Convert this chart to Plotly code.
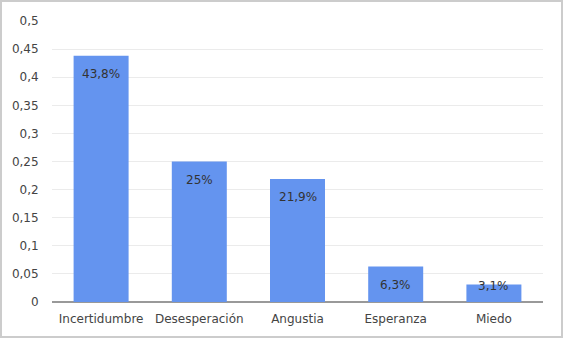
import plotly.graph_objects as go

categories = ["Incertidumbre", "Desesperación", "Angustia", "Esperanza", "Miedo"]
values = [0.438, 0.25, 0.219, 0.063, 0.031]
value_labels = ["43,8%", "25%", "21,9%", "6,3%", "3,1%"]

L, R, T, B = 52, 22, 21, 38
W, H = 565, 340
pw, ph = W - L - R, H - T - B

fig = go.Figure(go.Bar(
    x=categories, y=values,
    marker=dict(color="#6494EF", line=dict(width=0)),
    hoverinfo="skip",
))

px_per_unit = ph / 0.5
for c, v, t in zip(categories, values, value_labels):
    shift = -min(18, v * px_per_unit - 16)
    fig.add_annotation(x=c, y=v, text=t, showarrow=False, yshift=shift,
                       yanchor="middle", font=dict(size=12, color="#333333"))

fig.add_shape(type="rect", xref="paper", yref="paper",
              x0=(1 - L) / pw, x1=(W - 3 - L) / pw,
              y0=-(H - 3 - (T + ph)) / ph, y1=(T + ph - 1) / ph,
              line=dict(color="#cccccc", width=2), layer="below")

fig.update_layout(
    width=W, height=H,
    margin=dict(l=L, r=R, t=T, b=B),
    paper_bgcolor="white", plot_bgcolor="white",
    separators=",.",
    bargap=0.44,
    showlegend=False,
    font=dict(family="DejaVu Sans, Arial, sans-serif", size=12, color="#444444"),
    xaxis=dict(showgrid=False, showline=False, ticks="outside", ticklen=6,
               tickcolor="rgba(0,0,0,0)", tickfont=dict(size=12, color="#444444")),
    yaxis=dict(range=[0, 0.5], dtick=0.05, tick0=0, showgrid=True,
               gridcolor="#ebebeb", gridwidth=1, zeroline=True,
               zerolinecolor="#999999", zerolinewidth=1.5,
               ticks="outside", ticklen=10, tickcolor="rgba(0,0,0,0)",
               tickfont=dict(size=12, color="#444444")),
)

fig.write_html("out.html", config={"displayModeBar": False},
               post_script="document.body.style.margin='0';document.body.style.overflow='hidden';")
